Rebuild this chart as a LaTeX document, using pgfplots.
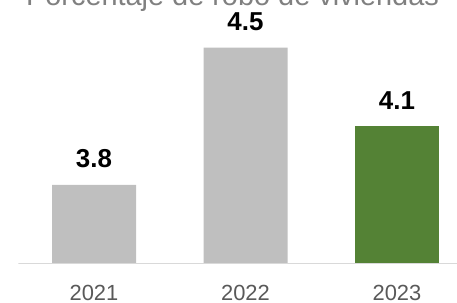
\documentclass[border=0pt]{standalone}
\usepackage{pgfplots}
\pgfplotsset{compat=1.18}
\usepackage{fontspec}
\setmainfont{Liberation Sans}
\definecolor{bargray}{HTML}{BFBFBF}
\definecolor{bargreen}{HTML}{548235}
\definecolor{axisgray}{HTML}{D9D9D9}
\definecolor{labgray}{HTML}{595959}
\definecolor{titlegray}{HTML}{808080}
\begin{document}
\begin{tikzpicture}
\begin{axis}[
  scale only axis,
  x=151.5bp, y=196.25bp,
  xmin=-0.5, xmax=2.5,
  ymin=3.4, ymax=5.0,
  axis line style={draw=none},
  ytick=\empty,
  xtick={0,1,2},
  xticklabels={2021,2022,2023},
  major tick length=0pt,
  xticklabel style={font=\fontsize{22}{24}\selectfont, text=labgray, anchor=base, inner sep=0pt, yshift=-36.5bp},
  ybar, bar width=84bp, bar shift=0pt,
  nodes near coords,
  nodes near coords style={font=\bfseries\fontsize{26}{28}\selectfont, text=black, anchor=base, inner sep=0pt, yshift=17bp},
  /pgf/number format/.cd, fixed, precision=1, fixed zerofill, assume math mode=true,
]
\addplot[fill=bargray, draw=none] coordinates {(0,3.8) (1,4.5)};
\addplot[fill=bargreen, draw=none] coordinates {(2,4.1)};
\draw[axisgray, line width=1.3bp] (axis cs:-0.5,3.4) -- (axis cs:2.5,3.4);
\coordinate (ll) at (axis cs:-0.5,3.4);
\end{axis}
\node[anchor=base, inner sep=0pt, text=titlegray, font=\fontsize{29}{31}\selectfont] at ([shift={(214.25bp,257.8bp)}]ll) {Porcentaje de robo de viviendas};
\pgfresetboundingbox
\path ([shift={(-18.25bp,-39.5bp)}]ll) rectangle ++(457bp,303bp);
\end{tikzpicture}
\end{document}
